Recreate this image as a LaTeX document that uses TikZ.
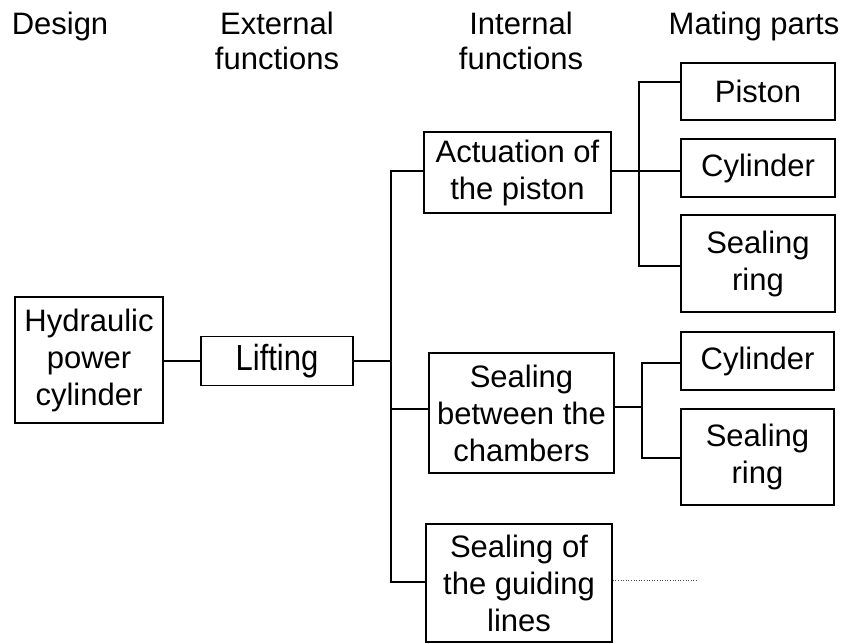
\documentclass[tikz,border=0pt]{standalone}
\usepackage{fontspec}
\setmainfont{Liberation Sans}
\begin{document}
\begin{tikzpicture}[x=1pt,y=-1pt,
  every node/.style={font=\fontsize{31}{37}\selectfont, align=center, inner sep=0pt},
  box/.style={draw, line width=1.6pt},
  head/.style={anchor=north, font=\fontsize{31}{35}\selectfont},
  thick conn/.style={line width=2pt},
  thin conn/.style={line width=1.3pt},
  dotconn/.style={line width=0.6pt, dotted, black!70}]
\useasboundingbox (0,0) rectangle (843,644);
% headers
\node[head] (hdesign) at (60,12) {Design};
\node[head] (hext) at (277,12) {External\\functions};
\node[head] (hint) at (521,12) {Internal\\functions};
\node[head] (hmat) at (754,12) {Mating parts};
% boxes
\node[box, minimum width=148pt, minimum height=126pt] (hyd) at (89,360) {Hydraulic\\power\\cylinder};
\node[box, minimum width=152pt, minimum height=49pt] (lift) at (277,361) {\scalebox{1}[1.17]{Lifting}};
\node[box, minimum width=187pt, minimum height=81pt] (act) at (517.5,172.5) {Actuation of\\the piston};
\node[box, minimum width=185pt, minimum height=120pt] (seal) at (521.5,413) {Sealing\\between the\\chambers};
\node[box, minimum width=186pt, minimum height=118pt] (guide) at (519,583) {Sealing of\\the guiding\\lines};
\node[box, minimum width=154pt, minimum height=57pt] (piston) at (758,91.5) {Piston};
\node[box, minimum width=154pt, minimum height=58pt] (cylA) at (758,168) {Cylinder};
\node[box, minimum width=154pt, minimum height=97pt] (ringA) at (758,263.5) {Sealing\\ring};
\node[box, minimum width=153pt, minimum height=58pt] (cylB) at (757.5,361) {Cylinder};
\node[box, minimum width=153pt, minimum height=96pt] (ringB) at (757.5,457) {Sealing\\ring};
% junction coordinates
\coordinate (trunkTop) at (391,171);
\coordinate (trunkBot) at (391,582);
\coordinate (jA) at (639,171);
\coordinate (jB) at (642,407);
\coordinate (dotEnd) at (698,580);
% connectors left part
\draw[thick conn] (hyd.east |- lift.west) -- (lift.west);
\draw[thick conn] (lift.east) -- (lift.east -| trunkTop);
\draw[thick conn] (act.west |- trunkTop) -- (trunkTop) -- (trunkBot) -- (guide.west |- trunkBot);
\draw[thick conn] (trunkTop |- 0,409) -- (seal.west |- 0,409);
% connectors right part
\draw[thin conn] (act.east |- jA) -- (cylA.west |- jA);
\draw[thin conn] (piston.west |- 0,82) -| (jA) |- (ringA.west |- 0,266);
\draw[thin conn] (seal.east |- jB) -- (jB);
\draw[thin conn] (cylB.west |- 0,363) -| (jB) |- (ringB.west |- 0,458);
\draw[dotconn] (guide.east |- dotEnd) -- (dotEnd);
\end{tikzpicture}
\end{document}
